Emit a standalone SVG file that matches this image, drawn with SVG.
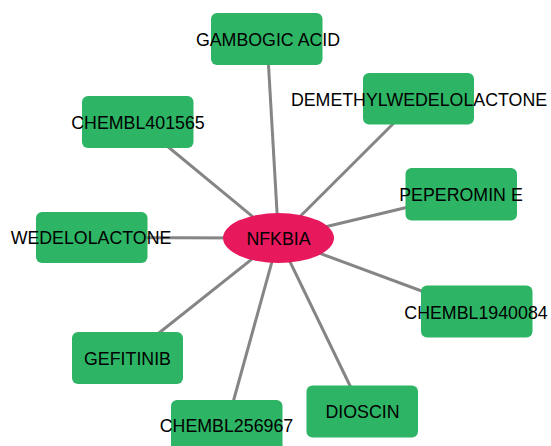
<svg xmlns="http://www.w3.org/2000/svg" width="551" height="446" viewBox="0 0 551 446">
<style>
.e{stroke:#858585;stroke-width:3;fill:none}
.n{fill:#2DB565}
.t{font-family:"Liberation Sans",Arial,sans-serif;font-size:17.8px;fill:#000;text-anchor:middle}
</style>
<rect width="551" height="446" fill="#fff"/>
<g id="edges">
<line class="e" x1="278.5" y1="238" x2="267" y2="39"/>
<line class="e" x1="278.5" y1="238" x2="418.5" y2="98.5"/>
<line class="e" x1="278.5" y1="238" x2="138" y2="122"/>
<line class="e" x1="278.5" y1="238" x2="461" y2="194.5"/>
<line class="e" x1="278.5" y1="238" x2="92" y2="237.5"/>
<line class="e" x1="278.5" y1="238" x2="477" y2="311.5"/>
<line class="e" x1="278.5" y1="238" x2="127.5" y2="358"/>
<line class="e" x1="278.5" y1="238" x2="362.5" y2="411.5"/>
<line class="e" x1="278.5" y1="238" x2="226.5" y2="426"/>
</g>
<g id="n1"><rect class="n" x="211" y="13" width="111.5" height="52" rx="6"/><text class="t" x="268" y="45.5">GAMBOGIC ACID</text></g>
<g id="n2"><rect class="n" x="363" y="73" width="111" height="51.5" rx="6"/><text class="t" x="419" y="105.5">DEMETHYLWEDELOLACTONE</text></g>
<g id="n3"><rect class="n" x="82" y="96" width="111.5" height="52" rx="6"/><text class="t" x="138" y="128.5">CHEMBL401565</text></g>
<g id="n4"><rect class="n" x="405.5" y="168" width="111.5" height="52.5" rx="6"/><text class="t" x="461" y="200.5">PEPEROMIN E</text></g>
<g id="n5"><rect class="n" x="36" y="212" width="111.5" height="51" rx="6"/><text class="t" x="91" y="244">WEDELOLACTONE</text></g>
<g id="n6"><rect class="n" x="421" y="285.5" width="111.5" height="52" rx="6"/><text class="t" x="476" y="318.5">CHEMBL1940084</text></g>
<g id="n7"><rect class="n" x="72" y="332" width="111" height="52" rx="6"/><text class="t" x="127.5" y="364.5">GEFITINIB</text></g>
<g id="n8"><rect class="n" x="306.5" y="385.5" width="111.5" height="52" rx="6"/><text class="t" x="362.5" y="418">DIOSCIN</text></g>
<g id="n9"><rect class="n" x="171" y="400" width="111.5" height="52" rx="6"/><text class="t" x="226.5" y="432">CHEMBL256967</text></g>
<g id="center"><ellipse cx="278.5" cy="238" rx="55.5" ry="25" fill="#E8185D"/><text class="t" x="278.5" y="244.5">NFKBIA</text></g>
</svg>
